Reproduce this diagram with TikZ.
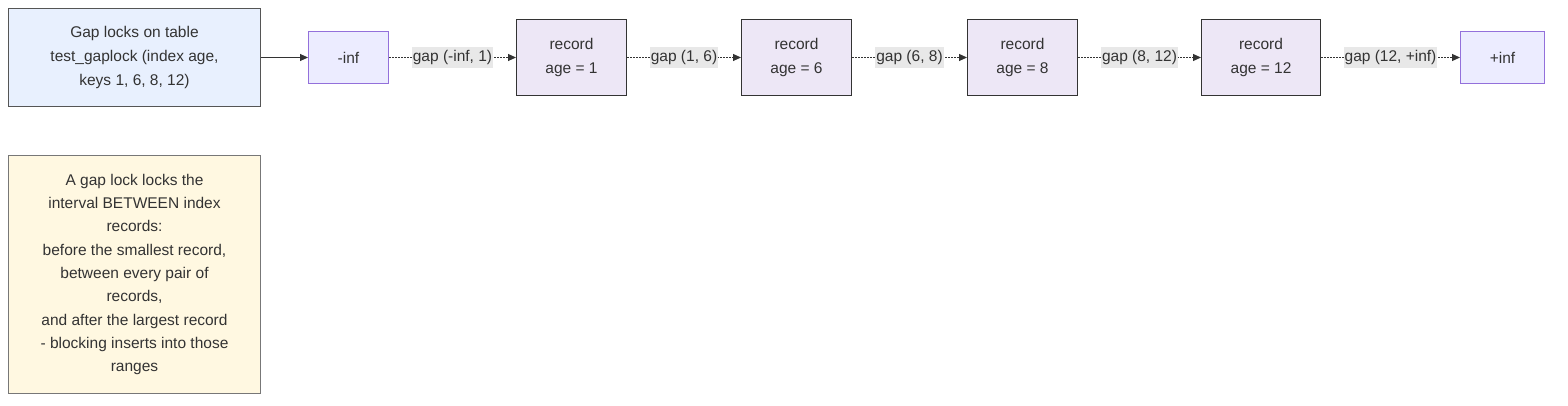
\documentclass[tikz,border=0pt]{standalone}
\usepackage{fontspec}
\setmainfont{Liberation Sans}
\usetikzlibrary{arrows.meta,positioning}
\definecolor{titlefill}{HTML}{E8F0FE}
\definecolor{titledraw}{HTML}{555555}
\definecolor{inffill}{HTML}{ECECFF}
\definecolor{infdraw}{HTML}{9370DB}
\definecolor{recfill}{HTML}{EDE7F6}
\definecolor{recdraw}{HTML}{333333}
\definecolor{notefill}{HTML}{FFF8E1}
\definecolor{notedraw}{HTML}{777777}
\definecolor{labfill}{HTML}{E8E8E8}
\definecolor{txt}{HTML}{333333}
\begin{document}
\begin{tikzpicture}[x=1pt,y=-1pt,
  every node/.style={font=\fontsize{15.5}{24}\selectfont, text=txt, inner sep=0pt, align=center},
  box/.style={draw, line width=1pt, anchor=north west},
  titlebox/.style={box, fill=titlefill, draw=titledraw},
  infbox/.style={box, fill=inffill, draw=infdraw},
  recbox/.style={box, fill=recfill, draw=recdraw},
  notebox/.style={box, fill=notefill, draw=notedraw, font=\fontsize{15.5}{23.3}\selectfont},
  solidarrow/.style={draw=txt, line width=1pt, -{Triangle[length=8pt,width=7pt]}},
  dotarrow/.style={draw=txt, line width=1pt, dash pattern=on 1.5pt off 1.5pt, -{Triangle[length=8pt,width=7pt]}},
  gaplab/.style={fill=labfill, inner xsep=1pt, inner ysep=3pt, text=txt}
]
\useasboundingbox (0,0) rectangle (1568,406);

\node[titlebox, minimum width=252pt, minimum height=98pt] (title) at (8,8)
  {Gap locks on table\\test\_gaplock (index age,\\keys 1, 6, 8, 12)};

\node[infbox, minimum width=80pt, minimum height=52pt] (ninf) at (308,31) {-inf};
\node[recbox, minimum width=110pt, minimum height=76pt] (r1) at (516,19) {record\\age = 1};
\node[recbox, minimum width=110pt, minimum height=76pt] (r6) at (741,19) {record\\age = 6};
\node[recbox, minimum width=110pt, minimum height=76pt] (r8) at (967,19) {record\\age = 8};
\node[recbox, minimum width=119pt, minimum height=76pt] (r12) at (1201,19) {record\\age = 12};
\node[infbox, minimum width=84pt, minimum height=52pt] (pinf) at (1460,31) {+inf};

\node[notebox, minimum width=252pt, minimum height=238pt] (note) at (8,155)
  {A gap lock locks the\\interval BETWEEN index\\records:\\before the smallest record,\\between every pair of\\records,\\and after the largest record\\- blocking inserts into those\\ranges};

\draw[solidarrow] (title.east) -- (ninf.west);
\draw[dotarrow] (ninf.east) -- node[gaplab] {gap (-inf, 1)} (r1.west);
\draw[dotarrow] (r1.east) -- node[gaplab] {gap (1, 6)} (r6.west);
\draw[dotarrow] (r6.east) -- node[gaplab] {gap (6, 8)} (r8.west);
\draw[dotarrow] (r8.east) -- node[gaplab] {gap (8, 12)} (r12.west);
\draw[dotarrow] (r12.east) -- node[gaplab] {gap (12, +inf)} (pinf.west);
\end{tikzpicture}
\end{document}
